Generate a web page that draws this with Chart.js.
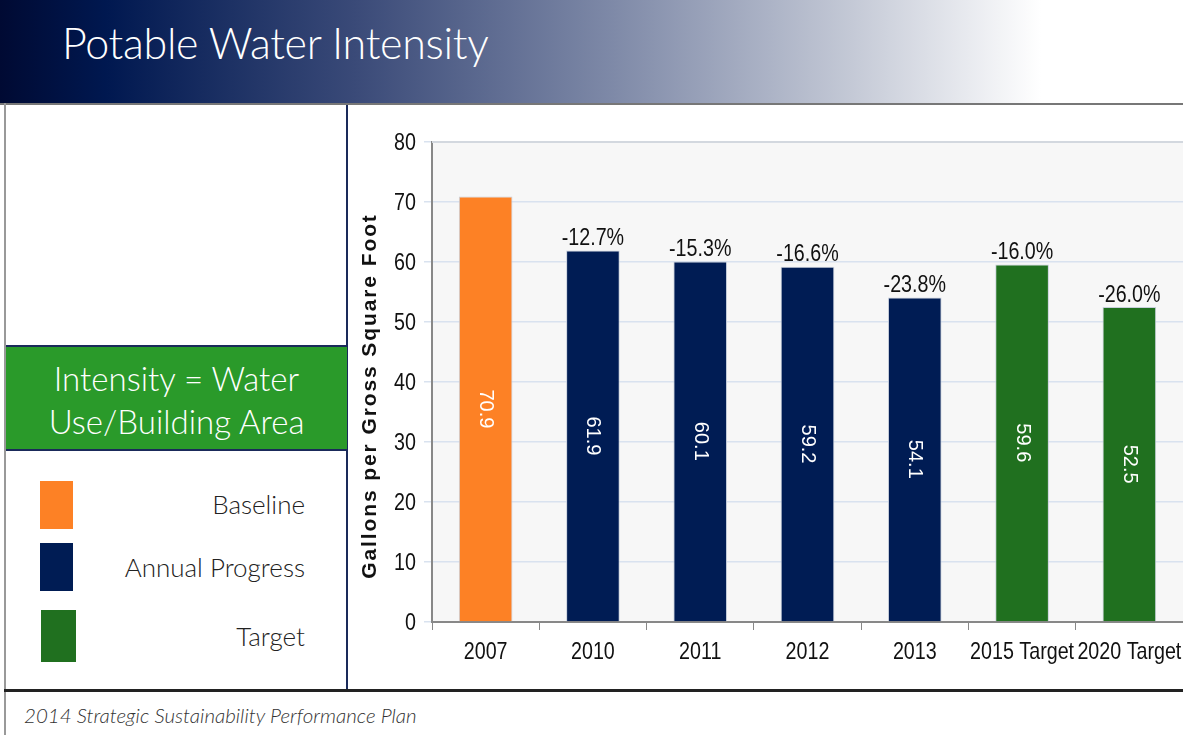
<!DOCTYPE html>
<html>
<head>
<meta charset="utf-8">
<script src="https://cdn.jsdelivr.net/npm/chart.js@4/dist/chart.umd.min.js"></script>
<style>
body { margin: 0; width: 1183px; height: 735px; background: #fff; position: relative; overflow: hidden; font-family: "Lato", "Open Sans", sans-serif; }
#banner { position: absolute; left: 0; top: 0; width: 1183px; height: 103px;
  background: linear-gradient(to right, #000a33 0%, #001850 9%, #3a4a78 30%, #7f8aa8 52%, #c4c9d6 72%, #ffffff 88%); }
#title { position: absolute; left: 62px; top: 17px; color: #fff; font-size: 43px; font-weight: 300; letter-spacing: -0.3px; }
#topline { position: absolute; left: 0; top: 103px; width: 1183px; height: 2px; background: #777; }
#leftline { position: absolute; left: 4px; top: 103px; width: 2px; height: 632px; background: #999; }
#panel { position: absolute; left: 6px; top: 105px; width: 340px; height: 585px; border-right: 2px solid #1a2a5a; }
#greenbox { position: absolute; left: 6px; top: 345px; width: 341px; height: 106px; background: #2a9a2a;
  border-top: 2px solid #1a2a5a; border-bottom: 2px solid #1a2a5a; color: #fff; font-size: 33px; text-align: center; line-height: 43px; padding-top: 10px; box-sizing: border-box; font-weight: 300; }
.sw { position: absolute; }
.lab { position: absolute; right: 878px; font-size: 26px; color: #222; font-weight: 300; }
#bottomline { position: absolute; left: 4px; top: 689px; width: 1179px; height: 3px; background: #222; }
#footer { position: absolute; left: 24px; top: 703px; font-size: 20.5px; font-style: italic; color: #333; font-weight: 300; }
#wrap { position: absolute; left: 349px; top: 105px; width: 834px; height: 584px; }
</style>
</head>
<body>
<div id="banner"><div id="title">Potable Water Intensity</div></div>
<div id="topline"></div>
<div id="panel"></div>
<div id="leftline"></div>
<div id="greenbox">Intensity = Water<br>Use/Building Area</div>
<div class="sw" style="left:40px;top:481px;width:33px;height:48px;background:#fd8125"></div>
<div class="lab" style="top:488px">Baseline</div>
<div class="sw" style="left:40px;top:543px;width:33px;height:48px;background:#001c54"></div>
<div class="lab" style="top:551px">Annual Progress</div>
<div class="sw" style="left:41px;top:610px;width:35px;height:52px;background:#20701f"></div>
<div class="lab" style="top:620px">Target</div>
<div id="bottomline"></div>
<div id="footer">2014 Strategic Sustainability Performance Plan</div>
<div id="wrap"><canvas id="chartCanvas" width="834" height="584"></canvas></div>
<script>
// data
var categories = ["2007", "2010", "2011", "2012", "2013", "2015 Target", "2020 Target"];
var intensity = [70.9, 61.9, 60.1, 59.2, 54.1, 59.6, 52.5];
var changeLabels = ["", "-12.7%", "-15.3%", "-16.6%", "-23.8%", "-16.0%", "-26.0%"];
var barColors = ["#fd8125", "#001c54", "#001c54", "#001c54", "#001c54", "#20701f", "#20701f"];
var yTicks = [0, 10, 20, 30, 40, 50, 60, 70, 80];
var yTitle = "Gallons per Gross Square Foot";

var sans = "'Liberation Sans', Arial, sans-serif";
var squeeze = 0.82;

// narrow text: normal font squeezed horizontally
function drawNarrow(ctx, text, x, y, align, baseline) {
	ctx.save();
	ctx.translate(x, y);
	ctx.scale(squeeze, 1);
	ctx.fillStyle = "#111";
	ctx.font = "24px " + sans;
	ctx.textAlign = align;
	ctx.textBaseline = baseline;
	ctx.fillText(text, 0, 0);
	ctx.restore();
}

// plot background, tick labels, axis title and bar labels
var labelPlugin = {
	id: "labels",
	beforeDraw: function(chart) {
		var ctx = chart.ctx, a = chart.chartArea;
		ctx.save();
		ctx.fillStyle = "#f7f7f7";
		ctx.fillRect(a.left, a.top, a.right - a.left, a.bottom - a.top);
		ctx.restore();
	},
	afterDatasetsDraw: function(chart) {
		var ctx = chart.ctx;
		var a = chart.chartArea;
		var meta = chart.getDatasetMeta(0);
		var xs = chart.scales.x, ys = chart.scales.y;
		ctx.save();
		for (var i = 0; i < meta.data.length; i++) {
			var bar = meta.data[i];
			// change label above bar
			drawNarrow(ctx, changeLabels[i], bar.x, bar.y, "center", "bottom");
			// value inside bar, rotated
			ctx.save();
			ctx.translate(bar.x, (bar.y + bar.base) / 2);
			ctx.rotate(Math.PI / 2);
			ctx.fillStyle = "#fff";
			ctx.font = "20px " + sans;
			ctx.textAlign = "center";
			ctx.textBaseline = "middle";
			ctx.fillText(intensity[i].toFixed(1), 0, 0);
			ctx.restore();
		}
		// tick labels
		for (var j = 0; j < categories.length; j++) {
			drawNarrow(ctx, categories[j], xs.getPixelForValue(j), a.bottom + 30, "center", "middle");
		}
		for (var k = 0; k < yTicks.length; k++) {
			drawNarrow(ctx, String(yTicks[k]), a.left - 16, ys.getPixelForValue(yTicks[k]) + 1, "right", "middle");
		}
		// top border of plot
		ctx.strokeStyle = "#d3d8df";
		ctx.lineWidth = 2;
		ctx.beginPath();
		ctx.moveTo(a.left, a.top);
		ctx.lineTo(a.right, a.top);
		ctx.stroke();
		// y axis title
		ctx.save();
		ctx.translate(21, (a.top + a.bottom) / 2 + 14);
		ctx.rotate(-Math.PI / 2);
		ctx.fillStyle = "#111";
		ctx.font = "bold 21px " + sans;
		ctx.letterSpacing = "1.9px";
		ctx.textAlign = "center";
		ctx.textBaseline = "middle";
		ctx.fillText(yTitle, 0, 0);
		ctx.restore();
		ctx.restore();
	}
};

var chart = new Chart(document.getElementById("chartCanvas").getContext("2d"), {
	type: "bar",
	data: {
		labels: categories,
		datasets: [{
			data: intensity,
			backgroundColor: barColors,
			borderColor: "#c8d0dc",
			borderWidth: 1,
			barPercentage: 0.5,
			categoryPercentage: 1.0
		}]
	},
	options: {
		responsive: false,
		animation: false,
		layout: { padding: { top: 37, right: 0, bottom: 0, left: 0 } },
		plugins: { legend: { display: false }, tooltip: { enabled: false } },
		scales: {
			x: {
				grid: { display: true, drawOnChartArea: false, offset: true, color: "#888", tickLength: 8 },
				border: { color: "#888", width: 2 },
				ticks: { color: "rgba(0,0,0,0)", font: { size: 20, family: sans }, padding: 9, maxRotation: 0, autoSkip: false },
				afterFit: function(s) { s.height = 67; s.paddingLeft = 0; s.paddingRight = 0; }
			},
			y: {
				min: 0, max: 80,
				afterBuildTicks: function(s) { s.ticks = yTicks.map(function(v) { return { value: v }; }); },
				grid: { color: "#d9e2ef", tickLength: 8, lineWidth: 1.5 },
				border: { color: "#888", width: 2 },
				ticks: { color: "rgba(0,0,0,0)", font: { size: 21, family: sans }, padding: 6 },
				afterFit: function(s) { s.width = 83; s.paddingTop = 0; s.paddingBottom = 0; }
			}
		}
	},
	plugins: [labelPlugin]
});
</script>
</body>
</html>
